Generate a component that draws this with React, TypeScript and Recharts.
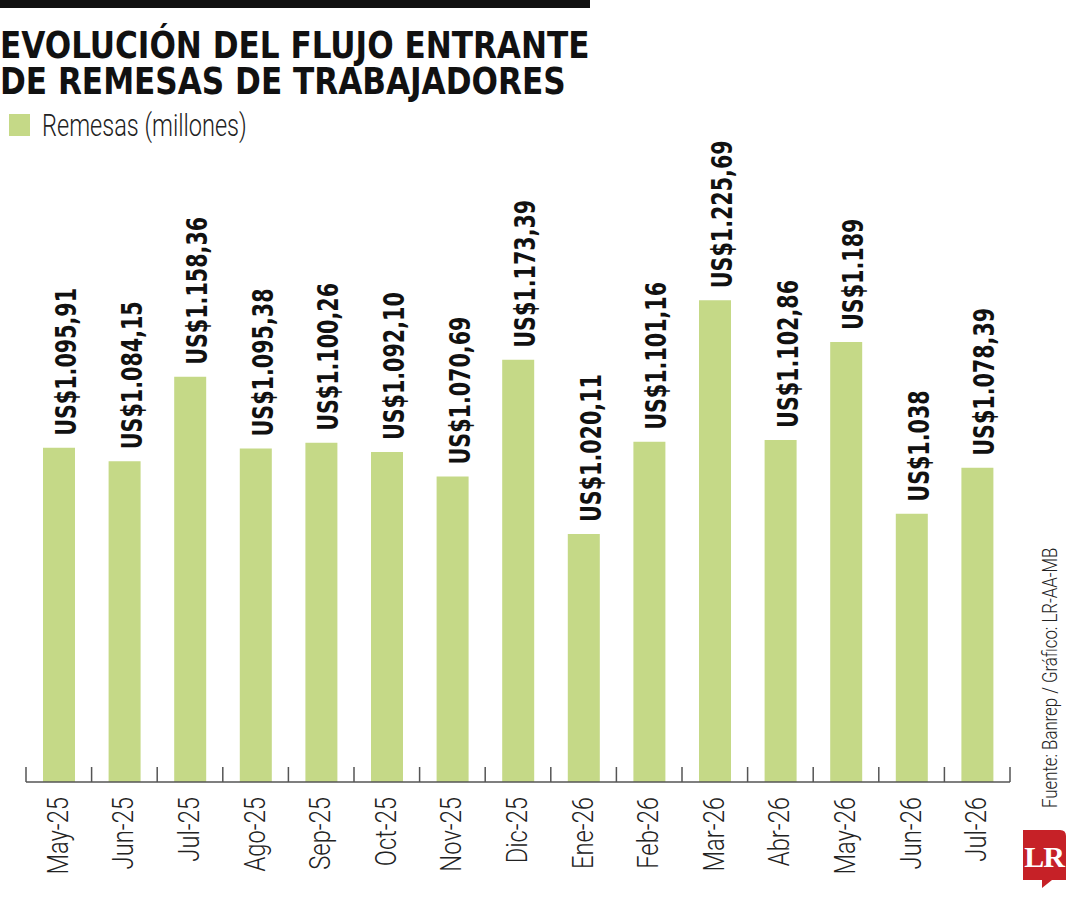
import { BarChart, Bar, XAxis, YAxis, LabelList } from "recharts";

const months = [
  "May-25", "Jun-25", "Jul-25", "Ago-25", "Sep-25", "Oct-25", "Nov-25", "Dic-25",
  "Ene-26", "Feb-26", "Mar-26", "Abr-26", "May-26", "Jun-26", "Jul-26",
];
const remesas = [
  1095.91, 1084.15, 1158.36, 1095.38, 1100.26, 1092.1, 1070.69, 1173.39,
  1020.11, 1101.16, 1225.69, 1102.86, 1189, 1038, 1078.39,
];
const yDomain = [802, 1400];

const data = months.map((m, i) => ({ month: m, value: remesas[i] }));

const W = 1080;
const H = 900;
const M = { top: 102, right: 70, left: 26, bottom: 0 };
const BAND = (W - M.left - M.right) / months.length;

const GREEN = "#c5d987";
const BOLD = "'DejaVu Sans Condensed', 'DejaVu Sans', sans-serif";
const LIGHT = "Roboto, 'Noto Sans', sans-serif";

// "US$1.095,91" style
const fmt = (v: number) => {
  const [i, d] = v.toFixed(2).split(".");
  const int = i.replace(/\B(?=(\d{3})+(?!\d))/g, ".");
  return "US$" + int + (Number.isInteger(v) ? "" : "," + d);
};

const ValueLabel = (props: any) => {
  const { x, y, width, value } = props;
  const tx = x + width + 1;
  const ty = y - 12;
  return (
    <text
      transform={`translate(${tx}, ${ty}) rotate(-90) scale(0.82, 1)`}
      fill="#111"
      fontFamily={BOLD}
      fontWeight={700}
      fontSize={28}
    >
      {fmt(value)}
    </text>
  );
};

const MonthTick = (props: any) => {
  const { x, y, payload, index } = props;
  const left = x - BAND / 2;
  const right = x + BAND / 2;
  return (
    <g>
      <line x1={left} x2={left} y1={y - 15} y2={y} stroke="#555" strokeWidth={1.5} />
      {index === months.length - 1 && (
        <line x1={right} x2={right} y1={y - 15} y2={y} stroke="#555" strokeWidth={1.5} />
      )}
      <text
        transform={`translate(${x + 9}, ${y + 15}) rotate(-90) scale(0.82, 1)`}
        textAnchor="end"
        fill="#222"
        fontFamily={LIGHT}
        fontWeight={300}
        fontSize={29}
      >
        {payload.value}
      </text>
    </g>
  );
};

const titleLine = {
  fontFamily: BOLD,
  fontWeight: 700,
  fontSize: 38,
  lineHeight: "36px",
  height: 36,
  color: "#111",
  whiteSpace: "nowrap" as const,
};

export default function App() {
  return (
    <div style={{ position: "absolute", left: 0, top: 0, width: W, height: H, background: "#fff", overflow: "hidden" }}>
      <div style={{ position: "absolute", left: 0, top: 0, width: 590, height: 8, background: "#111" }} />
      <div
        style={{
          position: "absolute",
          left: 0,
          top: 27,
          transform: "scaleX(0.91)",
          transformOrigin: "0 0",
        }}
      >
        <div style={titleLine}>EVOLUCIÓN DEL FLUJO ENTRANTE</div>
        <div style={titleLine}>DE REMESAS DE TRABAJADORES</div>
      </div>
      <div style={{ position: "absolute", left: 9, top: 114, width: 21, height: 22, background: GREEN }} />
      <div
        style={{
          position: "absolute",
          left: 42,
          top: 108,
          fontFamily: LIGHT,
          fontWeight: 300,
          fontSize: 31,
          lineHeight: "36px",
          color: "#222",
          whiteSpace: "nowrap",
          transform: "scaleX(0.76)",
          transformOrigin: "0 0",
        }}
      >
        Remesas (millones)
      </div>

      <div style={{ position: "absolute", left: 0, top: 0 }}>
        <BarChart width={W} height={H} data={data} margin={M}>
          <YAxis hide domain={yDomain} />
          <XAxis
            dataKey="month"
            height={118}
            interval={0}
            tickLine={false}
            tickSize={0}
            tickMargin={0}
            axisLine={{ stroke: "#555", strokeWidth: 1.5 }}
            tick={<MonthTick />}
          />
          <Bar dataKey="value" fill={GREEN} barSize={32} isAnimationActive={false}>
            <LabelList dataKey="value" content={<ValueLabel />} />
          </Bar>
        </BarChart>
      </div>

      <svg style={{ position: "absolute", left: 1030, top: 540 }} width={40} height={280}>
        <text
          transform="translate(27, 268) rotate(-90) scale(0.8, 1)"
          fill="#222"
          fontFamily={LIGHT}
          fontWeight={300}
          fontSize={21}
        >
          Fuente: Banrep / Gráfico: LR-AA-MB
        </text>
      </svg>

      <svg style={{ position: "absolute", left: 1020, top: 828 }} width={50} height={62}>
        <path d="M3 2 H40 Q46 2 46 8 V52 H32 L22 60 L22 52 H3 Z" fill="#c62127" />
        <text
          x={24}
          y={39}
          textAnchor="middle"
          fill="#fff"
          fontFamily="'Liberation Serif', 'DejaVu Serif', serif"
          fontWeight={700}
          fontSize={30}
          letterSpacing={-1}
        >
          LR
        </text>
      </svg>
    </div>
  );
}
